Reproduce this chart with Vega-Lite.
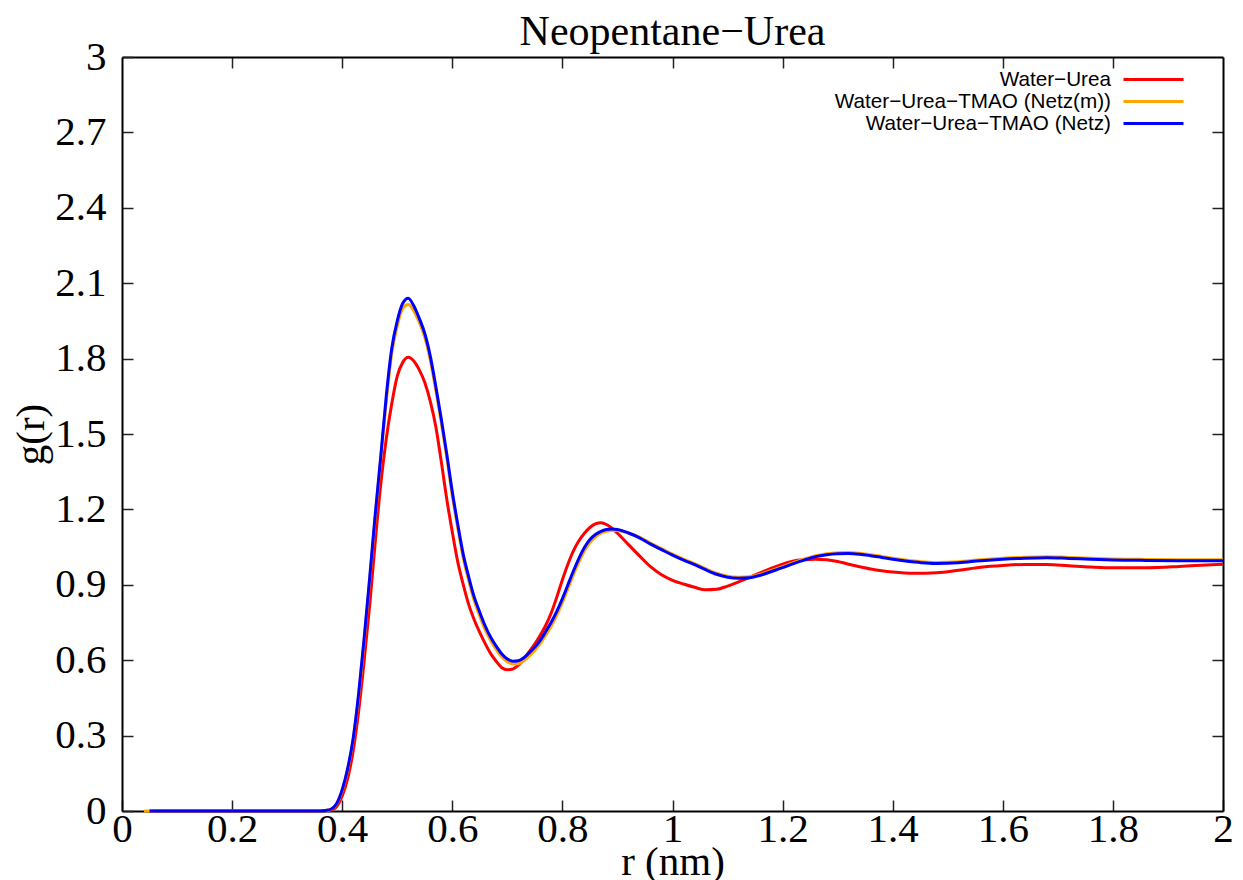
{
  "$schema": "https://vega.github.io/schema/vega-lite/v6.json",
  "width": 1101,
  "height": 754,
  "autosize": {"type": "none"},
  "padding": {"left": 122, "top": 57, "right": 20, "bottom": 69},
  "background": "white",
  "title": {"text": "Neopentane−Urea", "font": "Liberation Serif", "fontSize": 42, "fontWeight": "normal", "color": "black", "anchor": "middle", "offset": -18},
  "config": {
    "view": {"stroke": null},
    "axis": {
      "grid": false,
      "domainColor": "black",
      "domainWidth": 2,
      "tickColor": "#222",
      "tickWidth": 1.5,
      "tickSize": -11,
      "labelFont": "Liberation Serif",
      "labelFontSize": 41,
      "labelColor": "black",
      "labelFlush": false,
      "labelOverlap": false,
      "labelBound": false,
      "titleFont": "Liberation Serif",
      "titleFontSize": 41,
      "titleFontWeight": "normal",
      "titleColor": "black"
    }
  },
  "data": {"values": [
    {"s":"Water−Urea","r":0.05,"g":0},{"s":"Water−Urea","r":0.1,"g":0},{"s":"Water−Urea","r":0.2,"g":0},{"s":"Water−Urea","r":0.3,"g":0},{"s":"Water−Urea","r":0.36,"g":0},{"s":"Water−Urea","r":0.37,"g":0.001},{"s":"Water−Urea","r":0.38,"g":0.004},{"s":"Water−Urea","r":0.39,"g":0.018},{"s":"Water−Urea","r":0.4,"g":0.06},{"s":"Water−Urea","r":0.41,"g":0.13},{"s":"Water−Urea","r":0.42,"g":0.24},{"s":"Water−Urea","r":0.43,"g":0.4},{"s":"Water−Urea","r":0.44,"g":0.6},{"s":"Water−Urea","r":0.45,"g":0.82},{"s":"Water−Urea","r":0.46,"g":1.07},{"s":"Water−Urea","r":0.47,"g":1.3},{"s":"Water−Urea","r":0.48,"g":1.48},{"s":"Water−Urea","r":0.49,"g":1.62},{"s":"Water−Urea","r":0.5,"g":1.73},{"s":"Water−Urea","r":0.51,"g":1.785},{"s":"Water−Urea","r":0.52,"g":1.805},{"s":"Water−Urea","r":0.53,"g":1.79},{"s":"Water−Urea","r":0.54,"g":1.755},{"s":"Water−Urea","r":0.55,"g":1.705},{"s":"Water−Urea","r":0.56,"g":1.63},{"s":"Water−Urea","r":0.57,"g":1.53},{"s":"Water−Urea","r":0.58,"g":1.39},{"s":"Water−Urea","r":0.59,"g":1.24},{"s":"Water−Urea","r":0.6,"g":1.11},{"s":"Water−Urea","r":0.61,"g":0.99},{"s":"Water−Urea","r":0.62,"g":0.9},{"s":"Water−Urea","r":0.63,"g":0.82},{"s":"Water−Urea","r":0.64,"g":0.76},{"s":"Water−Urea","r":0.65,"g":0.71},{"s":"Water−Urea","r":0.66,"g":0.665},{"s":"Water−Urea","r":0.67,"g":0.625},{"s":"Water−Urea","r":0.68,"g":0.595},{"s":"Water−Urea","r":0.69,"g":0.57},{"s":"Water−Urea","r":0.7,"g":0.562},{"s":"Water−Urea","r":0.71,"g":0.565},{"s":"Water−Urea","r":0.72,"g":0.58},{"s":"Water−Urea","r":0.73,"g":0.605},{"s":"Water−Urea","r":0.74,"g":0.635},{"s":"Water−Urea","r":0.75,"g":0.665},{"s":"Water−Urea","r":0.76,"g":0.7},{"s":"Water−Urea","r":0.77,"g":0.74},{"s":"Water−Urea","r":0.78,"g":0.79},{"s":"Water−Urea","r":0.79,"g":0.852},{"s":"Water−Urea","r":0.8,"g":0.92},{"s":"Water−Urea","r":0.81,"g":0.982},{"s":"Water−Urea","r":0.82,"g":1.035},{"s":"Water−Urea","r":0.83,"g":1.075},{"s":"Water−Urea","r":0.84,"g":1.105},{"s":"Water−Urea","r":0.85,"g":1.128},{"s":"Water−Urea","r":0.86,"g":1.142},{"s":"Water−Urea","r":0.87,"g":1.147},{"s":"Water−Urea","r":0.88,"g":1.14},{"s":"Water−Urea","r":0.89,"g":1.125},{"s":"Water−Urea","r":0.9,"g":1.105},{"s":"Water−Urea","r":0.92,"g":1.06},{"s":"Water−Urea","r":0.94,"g":1.015},{"s":"Water−Urea","r":0.96,"g":0.972},{"s":"Water−Urea","r":0.98,"g":0.94},{"s":"Water−Urea","r":1.0,"g":0.918},{"s":"Water−Urea","r":1.02,"g":0.903},{"s":"Water−Urea","r":1.04,"g":0.89},{"s":"Water−Urea","r":1.06,"g":0.88},{"s":"Water−Urea","r":1.08,"g":0.882},{"s":"Water−Urea","r":1.1,"g":0.895},{"s":"Water−Urea","r":1.12,"g":0.912},{"s":"Water−Urea","r":1.14,"g":0.93},{"s":"Water−Urea","r":1.16,"g":0.948},{"s":"Water−Urea","r":1.18,"g":0.966},{"s":"Water−Urea","r":1.2,"g":0.982},{"s":"Water−Urea","r":1.22,"g":0.995},{"s":"Water−Urea","r":1.24,"g":1.0},{"s":"Water−Urea","r":1.26,"g":1.002},{"s":"Water−Urea","r":1.28,"g":1.0},{"s":"Water−Urea","r":1.3,"g":0.993},{"s":"Water−Urea","r":1.32,"g":0.982},{"s":"Water−Urea","r":1.34,"g":0.972},{"s":"Water−Urea","r":1.36,"g":0.963},{"s":"Water−Urea","r":1.38,"g":0.956},{"s":"Water−Urea","r":1.4,"g":0.951},{"s":"Water−Urea","r":1.44,"g":0.946},{"s":"Water−Urea","r":1.48,"g":0.948},{"s":"Water−Urea","r":1.52,"g":0.958},{"s":"Water−Urea","r":1.56,"g":0.97},{"s":"Water−Urea","r":1.6,"g":0.977},{"s":"Water−Urea","r":1.64,"g":0.981},{"s":"Water−Urea","r":1.68,"g":0.981},{"s":"Water−Urea","r":1.72,"g":0.976},{"s":"Water−Urea","r":1.76,"g":0.971},{"s":"Water−Urea","r":1.8,"g":0.968},{"s":"Water−Urea","r":1.86,"g":0.968},{"s":"Water−Urea","r":1.92,"g":0.973},{"s":"Water−Urea","r":1.96,"g":0.978},{"s":"Water−Urea","r":2.0,"g":0.982},
    {"s":"Water−Urea−TMAO (Netz(m))","r":0.04,"g":0},{"s":"Water−Urea−TMAO (Netz(m))","r":0.1,"g":0},{"s":"Water−Urea−TMAO (Netz(m))","r":0.2,"g":0},{"s":"Water−Urea−TMAO (Netz(m))","r":0.3,"g":0},{"s":"Water−Urea−TMAO (Netz(m))","r":0.36,"g":0},{"s":"Water−Urea−TMAO (Netz(m))","r":0.37,"g":0.002},{"s":"Water−Urea−TMAO (Netz(m))","r":0.38,"g":0.007},{"s":"Water−Urea−TMAO (Netz(m))","r":0.39,"g":0.028},{"s":"Water−Urea−TMAO (Netz(m))","r":0.4,"g":0.08},{"s":"Water−Urea−TMAO (Netz(m))","r":0.41,"g":0.165},{"s":"Water−Urea−TMAO (Netz(m))","r":0.42,"g":0.285},{"s":"Water−Urea−TMAO (Netz(m))","r":0.43,"g":0.46},{"s":"Water−Urea−TMAO (Netz(m))","r":0.44,"g":0.68},{"s":"Water−Urea−TMAO (Netz(m))","r":0.45,"g":0.92},{"s":"Water−Urea−TMAO (Netz(m))","r":0.46,"g":1.17},{"s":"Water−Urea−TMAO (Netz(m))","r":0.47,"g":1.4},{"s":"Water−Urea−TMAO (Netz(m))","r":0.48,"g":1.63},{"s":"Water−Urea−TMAO (Netz(m))","r":0.49,"g":1.82},{"s":"Water−Urea−TMAO (Netz(m))","r":0.5,"g":1.93},{"s":"Water−Urea−TMAO (Netz(m))","r":0.51,"g":2.0},{"s":"Water−Urea−TMAO (Netz(m))","r":0.52,"g":2.015},{"s":"Water−Urea−TMAO (Netz(m))","r":0.53,"g":1.99},{"s":"Water−Urea−TMAO (Netz(m))","r":0.54,"g":1.945},{"s":"Water−Urea−TMAO (Netz(m))","r":0.55,"g":1.885},{"s":"Water−Urea−TMAO (Netz(m))","r":0.56,"g":1.795},{"s":"Water−Urea−TMAO (Netz(m))","r":0.57,"g":1.675},{"s":"Water−Urea−TMAO (Netz(m))","r":0.58,"g":1.545},{"s":"Water−Urea−TMAO (Netz(m))","r":0.59,"g":1.405},{"s":"Water−Urea−TMAO (Netz(m))","r":0.6,"g":1.255},{"s":"Water−Urea−TMAO (Netz(m))","r":0.61,"g":1.125},{"s":"Water−Urea−TMAO (Netz(m))","r":0.62,"g":1.005},{"s":"Water−Urea−TMAO (Netz(m))","r":0.63,"g":0.915},{"s":"Water−Urea−TMAO (Netz(m))","r":0.64,"g":0.835},{"s":"Water−Urea−TMAO (Netz(m))","r":0.65,"g":0.775},{"s":"Water−Urea−TMAO (Netz(m))","r":0.66,"g":0.72},{"s":"Water−Urea−TMAO (Netz(m))","r":0.67,"g":0.677},{"s":"Water−Urea−TMAO (Netz(m))","r":0.68,"g":0.642},{"s":"Water−Urea−TMAO (Netz(m))","r":0.69,"g":0.613},{"s":"Water−Urea−TMAO (Netz(m))","r":0.7,"g":0.594},{"s":"Water−Urea−TMAO (Netz(m))","r":0.71,"g":0.585},{"s":"Water−Urea−TMAO (Netz(m))","r":0.72,"g":0.586},{"s":"Water−Urea−TMAO (Netz(m))","r":0.73,"g":0.598},{"s":"Water−Urea−TMAO (Netz(m))","r":0.74,"g":0.617},{"s":"Water−Urea−TMAO (Netz(m))","r":0.75,"g":0.64},{"s":"Water−Urea−TMAO (Netz(m))","r":0.76,"g":0.667},{"s":"Water−Urea−TMAO (Netz(m))","r":0.77,"g":0.7},{"s":"Water−Urea−TMAO (Netz(m))","r":0.78,"g":0.737},{"s":"Water−Urea−TMAO (Netz(m))","r":0.79,"g":0.78},{"s":"Water−Urea−TMAO (Netz(m))","r":0.8,"g":0.83},{"s":"Water−Urea−TMAO (Netz(m))","r":0.81,"g":0.885},{"s":"Water−Urea−TMAO (Netz(m))","r":0.82,"g":0.94},{"s":"Water−Urea−TMAO (Netz(m))","r":0.83,"g":0.99},{"s":"Water−Urea−TMAO (Netz(m))","r":0.84,"g":1.035},{"s":"Water−Urea−TMAO (Netz(m))","r":0.85,"g":1.068},{"s":"Water−Urea−TMAO (Netz(m))","r":0.86,"g":1.09},{"s":"Water−Urea−TMAO (Netz(m))","r":0.87,"g":1.105},{"s":"Water−Urea−TMAO (Netz(m))","r":0.88,"g":1.113},{"s":"Water−Urea−TMAO (Netz(m))","r":0.89,"g":1.116},{"s":"Water−Urea−TMAO (Netz(m))","r":0.9,"g":1.116},{"s":"Water−Urea−TMAO (Netz(m))","r":0.92,"g":1.106},{"s":"Water−Urea−TMAO (Netz(m))","r":0.94,"g":1.09},{"s":"Water−Urea−TMAO (Netz(m))","r":0.96,"g":1.066},{"s":"Water−Urea−TMAO (Netz(m))","r":0.98,"g":1.044},{"s":"Water−Urea−TMAO (Netz(m))","r":1.0,"g":1.022},{"s":"Water−Urea−TMAO (Netz(m))","r":1.02,"g":1.002},{"s":"Water−Urea−TMAO (Netz(m))","r":1.04,"g":0.984},{"s":"Water−Urea−TMAO (Netz(m))","r":1.06,"g":0.964},{"s":"Water−Urea−TMAO (Netz(m))","r":1.08,"g":0.946},{"s":"Water−Urea−TMAO (Netz(m))","r":1.1,"g":0.934},{"s":"Water−Urea−TMAO (Netz(m))","r":1.12,"g":0.93},{"s":"Water−Urea−TMAO (Netz(m))","r":1.14,"g":0.932},{"s":"Water−Urea−TMAO (Netz(m))","r":1.16,"g":0.942},{"s":"Water−Urea−TMAO (Netz(m))","r":1.18,"g":0.957},{"s":"Water−Urea−TMAO (Netz(m))","r":1.2,"g":0.972},{"s":"Water−Urea−TMAO (Netz(m))","r":1.22,"g":0.988},{"s":"Water−Urea−TMAO (Netz(m))","r":1.24,"g":1.003},{"s":"Water−Urea−TMAO (Netz(m))","r":1.26,"g":1.016},{"s":"Water−Urea−TMAO (Netz(m))","r":1.28,"g":1.024},{"s":"Water−Urea−TMAO (Netz(m))","r":1.3,"g":1.028},{"s":"Water−Urea−TMAO (Netz(m))","r":1.32,"g":1.029},{"s":"Water−Urea−TMAO (Netz(m))","r":1.34,"g":1.026},{"s":"Water−Urea−TMAO (Netz(m))","r":1.36,"g":1.02},{"s":"Water−Urea−TMAO (Netz(m))","r":1.38,"g":1.013},{"s":"Water−Urea−TMAO (Netz(m))","r":1.4,"g":1.006},{"s":"Water−Urea−TMAO (Netz(m))","r":1.42,"g":1.0},{"s":"Water−Urea−TMAO (Netz(m))","r":1.44,"g":0.995},{"s":"Water−Urea−TMAO (Netz(m))","r":1.46,"g":0.991},{"s":"Water−Urea−TMAO (Netz(m))","r":1.48,"g":0.989},{"s":"Water−Urea−TMAO (Netz(m))","r":1.52,"g":0.992},{"s":"Water−Urea−TMAO (Netz(m))","r":1.56,"g":1.0},{"s":"Water−Urea−TMAO (Netz(m))","r":1.6,"g":1.006},{"s":"Water−Urea−TMAO (Netz(m))","r":1.64,"g":1.01},{"s":"Water−Urea−TMAO (Netz(m))","r":1.68,"g":1.012},{"s":"Water−Urea−TMAO (Netz(m))","r":1.72,"g":1.009},{"s":"Water−Urea−TMAO (Netz(m))","r":1.76,"g":1.006},{"s":"Water−Urea−TMAO (Netz(m))","r":1.8,"g":1.003},{"s":"Water−Urea−TMAO (Netz(m))","r":1.86,"g":1.001},{"s":"Water−Urea−TMAO (Netz(m))","r":1.92,"g":1.0},{"s":"Water−Urea−TMAO (Netz(m))","r":2.0,"g":1.0},
    {"s":"Water−Urea−TMAO (Netz)","r":0.05,"g":0},{"s":"Water−Urea−TMAO (Netz)","r":0.1,"g":0},{"s":"Water−Urea−TMAO (Netz)","r":0.2,"g":0},{"s":"Water−Urea−TMAO (Netz)","r":0.3,"g":0},{"s":"Water−Urea−TMAO (Netz)","r":0.36,"g":0},{"s":"Water−Urea−TMAO (Netz)","r":0.37,"g":0.002},{"s":"Water−Urea−TMAO (Netz)","r":0.38,"g":0.008},{"s":"Water−Urea−TMAO (Netz)","r":0.39,"g":0.03},{"s":"Water−Urea−TMAO (Netz)","r":0.4,"g":0.085},{"s":"Water−Urea−TMAO (Netz)","r":0.41,"g":0.17},{"s":"Water−Urea−TMAO (Netz)","r":0.42,"g":0.29},{"s":"Water−Urea−TMAO (Netz)","r":0.43,"g":0.47},{"s":"Water−Urea−TMAO (Netz)","r":0.44,"g":0.69},{"s":"Water−Urea−TMAO (Netz)","r":0.45,"g":0.93},{"s":"Water−Urea−TMAO (Netz)","r":0.46,"g":1.18},{"s":"Water−Urea−TMAO (Netz)","r":0.47,"g":1.41},{"s":"Water−Urea−TMAO (Netz)","r":0.48,"g":1.65},{"s":"Water−Urea−TMAO (Netz)","r":0.49,"g":1.84},{"s":"Water−Urea−TMAO (Netz)","r":0.5,"g":1.95},{"s":"Water−Urea−TMAO (Netz)","r":0.51,"g":2.02},{"s":"Water−Urea−TMAO (Netz)","r":0.52,"g":2.04},{"s":"Water−Urea−TMAO (Netz)","r":0.53,"g":2.01},{"s":"Water−Urea−TMAO (Netz)","r":0.54,"g":1.96},{"s":"Water−Urea−TMAO (Netz)","r":0.55,"g":1.9},{"s":"Water−Urea−TMAO (Netz)","r":0.56,"g":1.81},{"s":"Water−Urea−TMAO (Netz)","r":0.57,"g":1.69},{"s":"Water−Urea−TMAO (Netz)","r":0.58,"g":1.56},{"s":"Water−Urea−TMAO (Netz)","r":0.59,"g":1.42},{"s":"Water−Urea−TMAO (Netz)","r":0.6,"g":1.27},{"s":"Water−Urea−TMAO (Netz)","r":0.61,"g":1.14},{"s":"Water−Urea−TMAO (Netz)","r":0.62,"g":1.02},{"s":"Water−Urea−TMAO (Netz)","r":0.63,"g":0.93},{"s":"Water−Urea−TMAO (Netz)","r":0.64,"g":0.85},{"s":"Water−Urea−TMAO (Netz)","r":0.65,"g":0.79},{"s":"Water−Urea−TMAO (Netz)","r":0.66,"g":0.735},{"s":"Water−Urea−TMAO (Netz)","r":0.67,"g":0.69},{"s":"Water−Urea−TMAO (Netz)","r":0.68,"g":0.655},{"s":"Water−Urea−TMAO (Netz)","r":0.69,"g":0.625},{"s":"Water−Urea−TMAO (Netz)","r":0.7,"g":0.605},{"s":"Water−Urea−TMAO (Netz)","r":0.71,"g":0.596},{"s":"Water−Urea−TMAO (Netz)","r":0.72,"g":0.598},{"s":"Water−Urea−TMAO (Netz)","r":0.73,"g":0.61},{"s":"Water−Urea−TMAO (Netz)","r":0.74,"g":0.63},{"s":"Water−Urea−TMAO (Netz)","r":0.75,"g":0.652},{"s":"Water−Urea−TMAO (Netz)","r":0.76,"g":0.68},{"s":"Water−Urea−TMAO (Netz)","r":0.77,"g":0.715},{"s":"Water−Urea−TMAO (Netz)","r":0.78,"g":0.752},{"s":"Water−Urea−TMAO (Netz)","r":0.79,"g":0.795},{"s":"Water−Urea−TMAO (Netz)","r":0.8,"g":0.845},{"s":"Water−Urea−TMAO (Netz)","r":0.81,"g":0.9},{"s":"Water−Urea−TMAO (Netz)","r":0.82,"g":0.955},{"s":"Water−Urea−TMAO (Netz)","r":0.83,"g":1.005},{"s":"Water−Urea−TMAO (Netz)","r":0.84,"g":1.048},{"s":"Water−Urea−TMAO (Netz)","r":0.85,"g":1.08},{"s":"Water−Urea−TMAO (Netz)","r":0.86,"g":1.1},{"s":"Water−Urea−TMAO (Netz)","r":0.87,"g":1.113},{"s":"Water−Urea−TMAO (Netz)","r":0.88,"g":1.12},{"s":"Water−Urea−TMAO (Netz)","r":0.89,"g":1.122},{"s":"Water−Urea−TMAO (Netz)","r":0.9,"g":1.12},{"s":"Water−Urea−TMAO (Netz)","r":0.92,"g":1.106},{"s":"Water−Urea−TMAO (Netz)","r":0.94,"g":1.087},{"s":"Water−Urea−TMAO (Netz)","r":0.96,"g":1.062},{"s":"Water−Urea−TMAO (Netz)","r":0.98,"g":1.04},{"s":"Water−Urea−TMAO (Netz)","r":1.0,"g":1.018},{"s":"Water−Urea−TMAO (Netz)","r":1.02,"g":0.998},{"s":"Water−Urea−TMAO (Netz)","r":1.04,"g":0.98},{"s":"Water−Urea−TMAO (Netz)","r":1.06,"g":0.96},{"s":"Water−Urea−TMAO (Netz)","r":1.08,"g":0.942},{"s":"Water−Urea−TMAO (Netz)","r":1.1,"g":0.93},{"s":"Water−Urea−TMAO (Netz)","r":1.12,"g":0.926},{"s":"Water−Urea−TMAO (Netz)","r":1.14,"g":0.928},{"s":"Water−Urea−TMAO (Netz)","r":1.16,"g":0.938},{"s":"Water−Urea−TMAO (Netz)","r":1.18,"g":0.953},{"s":"Water−Urea−TMAO (Netz)","r":1.2,"g":0.968},{"s":"Water−Urea−TMAO (Netz)","r":1.22,"g":0.984},{"s":"Water−Urea−TMAO (Netz)","r":1.24,"g":0.999},{"s":"Water−Urea−TMAO (Netz)","r":1.26,"g":1.012},{"s":"Water−Urea−TMAO (Netz)","r":1.28,"g":1.02},{"s":"Water−Urea−TMAO (Netz)","r":1.3,"g":1.024},{"s":"Water−Urea−TMAO (Netz)","r":1.32,"g":1.025},{"s":"Water−Urea−TMAO (Netz)","r":1.34,"g":1.022},{"s":"Water−Urea−TMAO (Netz)","r":1.36,"g":1.016},{"s":"Water−Urea−TMAO (Netz)","r":1.38,"g":1.009},{"s":"Water−Urea−TMAO (Netz)","r":1.4,"g":1.002},{"s":"Water−Urea−TMAO (Netz)","r":1.42,"g":0.996},{"s":"Water−Urea−TMAO (Netz)","r":1.44,"g":0.991},{"s":"Water−Urea−TMAO (Netz)","r":1.46,"g":0.987},{"s":"Water−Urea−TMAO (Netz)","r":1.48,"g":0.985},{"s":"Water−Urea−TMAO (Netz)","r":1.52,"g":0.988},{"s":"Water−Urea−TMAO (Netz)","r":1.56,"g":0.996},{"s":"Water−Urea−TMAO (Netz)","r":1.6,"g":1.002},{"s":"Water−Urea−TMAO (Netz)","r":1.64,"g":1.006},{"s":"Water−Urea−TMAO (Netz)","r":1.68,"g":1.008},{"s":"Water−Urea−TMAO (Netz)","r":1.72,"g":1.005},{"s":"Water−Urea−TMAO (Netz)","r":1.76,"g":1.002},{"s":"Water−Urea−TMAO (Netz)","r":1.8,"g":0.999},{"s":"Water−Urea−TMAO (Netz)","r":1.86,"g":0.997},{"s":"Water−Urea−TMAO (Netz)","r":1.92,"g":0.996},{"s":"Water−Urea−TMAO (Netz)","r":2.0,"g":0.996}
  ]},
  "layer": [
    {
      "mark": {"type": "line", "strokeWidth": 3, "interpolate": "monotone"},
      "encoding": {
        "x": {"field": "r", "type": "quantitative",
          "scale": {"domain": [0, 2], "nice": false, "zero": false},
          "axis": {"orient": "bottom", "values": [0,0.2,0.4,0.6,0.8,1,1.2,1.4,1.6,1.8,2], "format": "~g", "labelPadding": 9, "title": "r (nm)", "titlePadding": -7}},
        "y": {"field": "g", "type": "quantitative",
          "scale": {"domain": [0, 3], "nice": false},
          "axis": {"orient": "left", "values": [0,0.3,0.6,0.9,1.2,1.5,1.8,2.1,2.4,2.7,3], "format": "~g", "labelPadding": 27, "labelBaseline": "middle", "title": "g(r)", "titlePadding": 2}},
        "color": {"field": "s", "type": "nominal",
          "scale": {"domain": ["Water−Urea", "Water−Urea−TMAO (Netz(m))", "Water−Urea−TMAO (Netz)"], "range": ["#ff0000", "#ffa500", "#0000ff"]},
          "legend": {"title": null, "orient": "none", "legendX": 1020, "legendY": 11, "symbolType": "M-3,0H3", "symbolSize": 400, "symbolStrokeWidth": 3, "labelFont": "Liberation Sans", "labelFontSize": 20.7, "labelColor": "black", "labelAlign": "right", "labelOffset": -54, "labelLimit": 0, "rowPadding": -1, "padding": 0}}
      }
    },
    {
      "mark": {"type": "point", "opacity": 0},
      "encoding": {
        "x": {"field": "r", "type": "quantitative", "axis": {"orient": "top", "values": [0.2,0.4,0.6,0.8,1,1.2,1.4,1.6,1.8], "labels": false, "title": null}},
        "y": {"field": "g", "type": "quantitative", "axis": {"orient": "right", "values": [0.3,0.6,0.9,1.2,1.5,1.8,2.1,2.4,2.7], "labels": false, "title": null}}
      }
    }
  ],
  "resolve": {"axis": {"x": "independent", "y": "independent"}}
}
